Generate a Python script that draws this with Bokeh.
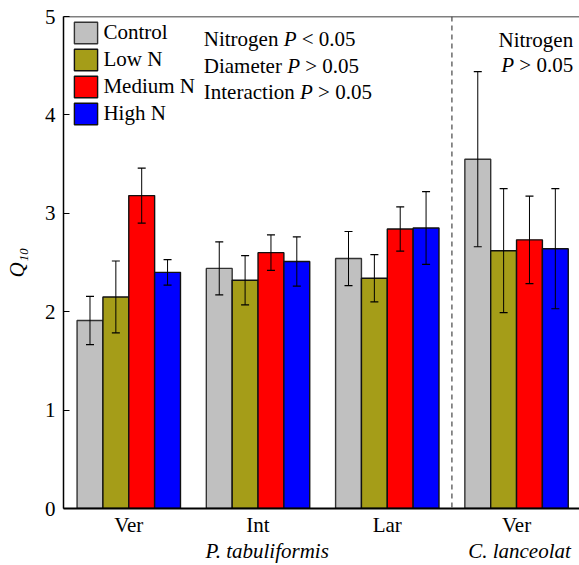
import numpy as np
from bokeh.plotting import figure
from bokeh.models import (ColumnDataSource, Range1d, FixedTicker, Whisker, TeeHead,
                          Span, Label, LinearAxis)
from bokeh.embed import file_html
from bokeh.resources import INLINE

# ---- data ----
groups = ["Ver", "Int", "Lar", "Ver"]
treatments = ["Control", "Low N", "Medium N", "High N"]
control = [1.91, 2.44, 2.54, 3.55]
low_n = [2.15, 2.32, 2.34, 2.62]
medium_n = [3.18, 2.60, 2.84, 2.73]
high_n = [2.40, 2.51, 2.85, 2.64]
control_err = [0.245, 0.27, 0.275, 0.89]
low_n_err = [0.365, 0.25, 0.24, 0.63]
medium_n_err = [0.28, 0.18, 0.225, 0.445]
high_n_err = [0.13, 0.25, 0.37, 0.61]
colors = ["#C0C0C0", "#A59D18", "#FF0000", "#0000FF"]
outline_colors = ["#333333", "#111111", "#111111", "#111111"]
species = ["P. tabuliformis", "C. lanceolat"]
species_pos = [1.071, 3.023]
y_ticks = [0, 1, 2, 3, 4, 5]

FONT = "Liberation Serif"
FS = "21px"

p = figure(width=579, height=565, output_backend="svg", toolbar_location=None,
           x_range=Range1d(-0.505, 3.487), y_range=Range1d(0, 5),
           min_border_left=63, min_border_right=0, min_border_top=16, min_border_bottom=57)
p.outline_line_color = None
p.xgrid.visible = False
p.ygrid.visible = False
p.background_fill_color = "white"
p.border_fill_color = "white"

values = [control, low_n, medium_n, high_n]
errors = [control_err, low_n_err, medium_n_err, high_n_err]
offsets = [-0.3, -0.1, 0.1, 0.3]
bar_w = 0.2
xs_group = np.arange(len(groups))

for i, name in enumerate(treatments):
    xs = xs_group + offsets[i]
    v = np.array(values[i])
    e = np.array(errors[i])
    src = ColumnDataSource(dict(x=xs, top=v, upper=v + e, lower=v - e))
    p.vbar(x="x", top="top", width=bar_w, bottom=0, source=src,
           fill_color=colors[i], line_color=outline_colors[i], line_width=1.4,
           legend_label=name)
    w = Whisker(base="x", upper="upper", lower="lower", source=src, dimension="height",
                line_color="black", line_width=1, level="annotation",
                upper_head=TeeHead(size=8, line_color="black", line_width=1.2),
                lower_head=TeeHead(size=8, line_color="black", line_width=1.2))
    p.add_layout(w)

# y axis
p.yaxis.ticker = FixedTicker(ticks=y_ticks)
p.yaxis.major_tick_in = 6
p.yaxis.major_tick_out = 0
p.yaxis.minor_tick_line_color = None
p.yaxis.axis_line_width = 1.5
p.yaxis.major_tick_line_width = 1.2
p.yaxis.major_label_standoff = 8
p.yaxis.major_label_text_font = FONT
p.yaxis.major_label_text_font_size = FS
p.yaxis.major_label_text_color = "black"
p.yaxis.axis_label = "Q\u2081\u2080"
p.yaxis.axis_label_text_font = FONT
p.yaxis.axis_label_text_font_size = FS
p.yaxis.axis_label_text_font_style = "italic"
p.yaxis.axis_label_text_color = "black"
p.yaxis.axis_label_standoff = 13

# x axis (diameter classes)
p.xaxis.ticker = FixedTicker(ticks=list(range(len(groups))))
p.xaxis.major_label_overrides = {i: g for i, g in enumerate(groups)}
p.xaxis.major_tick_in = 0
p.xaxis.major_tick_out = 0
p.xaxis.minor_tick_line_color = None
p.xaxis.axis_line_width = 2
p.xaxis.major_label_standoff = 4
p.xaxis.major_label_text_font = FONT
p.xaxis.major_label_text_font_size = FS
p.xaxis.major_label_text_color = "black"

# second x axis (species)
sp_axis = LinearAxis(ticker=FixedTicker(ticks=species_pos),
                     major_label_overrides={pos: s for pos, s in zip(species_pos, species)},
                     axis_line_color=None, major_tick_line_color=None,
                     minor_tick_line_color=None, major_tick_in=0, major_tick_out=0,
                     major_label_standoff=-1, major_label_text_font=FONT,
                     major_label_text_font_size=FS, major_label_text_font_style="italic",
                     major_label_text_color="black")
p.add_layout(sp_axis, "below")

# top frame line and separator
p.add_layout(Span(location=5, dimension="width", line_color="black", line_width=1.5))
p.add_layout(Span(location=2.5, dimension="height", line_color="#444444",
                  line_width=1.2, line_dash="5 4"))

# legend
lg = p.legend[0]
lg.location = (8.4, 380.7)
lg.padding = 0
lg.spacing = 0
lg.margin = 0
lg.glyph_width = 29
lg.glyph_height = 27
lg.label_standoff = 3
lg.label_text_font = FONT
lg.label_text_font_size = FS
lg.label_text_color = "black"
lg.border_line_color = None
lg.background_fill_alpha = 0

# helpers for px -> data
def dx(px):
    return (px - 128.3) / 129.26

def dy(py):
    return (508 - py) / 98.4

def lab(text, x, y, xo=0, style="normal", size=FS, align="left"):
    p.add_layout(Label(x=x, y=y, x_offset=xo, text=text, text_font=FONT,
                       text_font_size=size, text_font_style=style, text_align=align,
                       text_baseline="alphabetic", text_color="black"))

# statistics annotations
em = 21 / 1000.0
x0 = dx(203.3)
rows = [("Nitrogen", "< 0.05", 3555, 38.5), ("Diameter", "> 0.05", 3721, 65.0),
        ("Interaction", "> 0.05", 4332, 91.7)]
for word, rest, wlen, base in rows:
    lab(word, x0, dy(base))
    po = (wlen + 250) * em
    lab("P", x0, dy(base), xo=po, style="italic")
    lab(rest, x0, dy(base), xo=po + (611 + 250) * em)

xr = dx(572.7)
lab("Nitrogen", xr, dy(39.3), align="right")
lab("> 0.05", xr, dy(64), align="right")
lab("P", xr, dy(64), xo=-(2564 + 250) * em, align="right", style="italic")

open("out.html", "w").write(file_html(p, INLINE))
